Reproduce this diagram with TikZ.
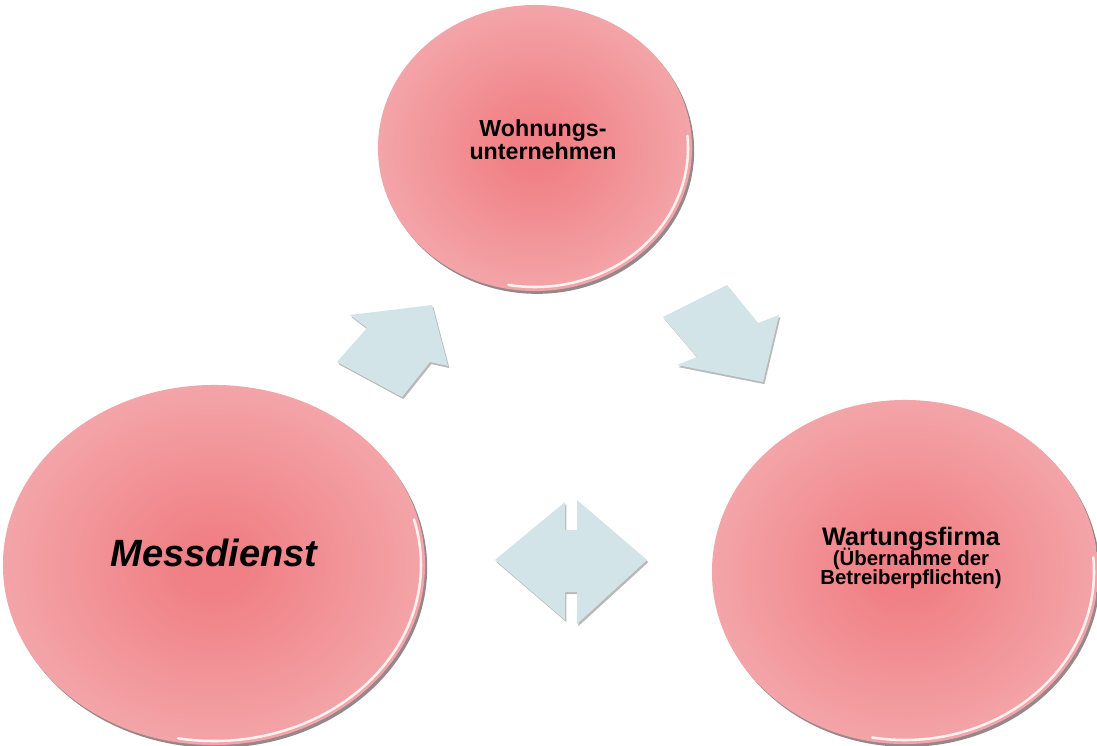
\documentclass[tikz,border=0pt]{standalone}
\usepackage{fontspec}
\setmainfont{Liberation Sans}
\usetikzlibrary{shapes.geometric, shadows}
\definecolor{pinkcore}{RGB}{240, 128, 133}
\definecolor{pinkedge}{RGB}{245, 182, 185}
\definecolor{arrowfill}{RGB}{210, 228, 231}
\definecolor{rimgray}{RGB}{140, 122, 124}
\pgfdeclareradialshading{pinkdisc}{\pgfpoint{0bp}{0bp}}{color(0bp)=(pinkcore); color(4bp)=(pinkcore); color(35bp)=(pinkedge); color(100bp)=(pinkedge)}

\begin{document}
\begin{tikzpicture}[
        x=0.025cm, y=-0.025cm,
        % Styles
        party/.style={
            ellipse,
            shade, shading=pinkdisc,
            inner sep=0pt,
            drop shadow={shadow xshift=1.5pt, shadow yshift=-2pt, fill=rimgray, opacity=0.9}
        },
        partytext/.style={
            align=center,
            inner sep=0pt,
            font=\bfseries\fontsize{16.5}{16.5}\selectfont
        },
        rim/.style={white, line width=1.8pt, opacity=0.85, line cap=round},
        blockarrow/.style={
            fill=arrowfill,
            drop shadow={shadow xshift=1pt, shadow yshift=-1.5pt, fill=gray!60, opacity=0.9}
        }
    ]

    \path[fill=white, use as bounding box] (0,0) rectangle (1097,745);

    % ==============================
    % 1. PARTIES
    % ==============================
    \node[party, minimum width=7.85cm, minimum height=7.15cm] (wohnung) at (535,148) {};
    \node[partytext] (wohnung-text) at (543,140) {Wohnungs-\\unternehmen};

    \node[party, minimum width=10.55cm, minimum height=9cm] (messdienst) at (214,565) {};
    \node[partytext, font=\bfseries\itshape\fontsize{27}{30}\selectfont] (messdienst-text) at (214,553) {Messdienst};

    \node[party, minimum width=9.65cm, minimum height=8.6cm] (wartung) at (905,572) {};
    \node[partytext, font=\bfseries\fontsize{14.5}{14}\selectfont,
          execute at begin node={\lineskiplimit=-20pt}] (wartung-text) at (911,558) {
        {\fontsize{18}{14}\selectfont Wartungsfirma}\\
        (Übernahme der\\
        Betreiberpflichten)
    };

    % highlights on the lower rims
    \draw[rim] (wohnung.center) ++(-5:153 and 139) arc[start angle=-5, end angle=100, x radius=153, y radius=139];
    \draw[rim] (messdienst.center) ++(-15:207 and 176) arc[start angle=-15, end angle=100, x radius=207, y radius=176];
    \draw[rim] (wartung.center) ++(-5:189 and 168) arc[start angle=-5, end angle=100, x radius=189, y radius=168];

    % ==============================
    % 2. ARROWS
    % ==============================
    % Messdienst -> Wohnungsunternehmen
    \fill[blockarrow] (432,305) -- (448,366) -- (430,362) -- (402,397) -- (337,362)
        -- (367,328) -- (350,315) -- cycle;

    % Wohnungsunternehmen -> Wartungsfirma
    \fill[blockarrow] (663,317) -- (727,285) -- (758,323) -- (779,315) -- (763,382)
        -- (677,365) -- (697,357) -- cycle;

    % Messdienst <-> Wartungsfirma
    \fill[blockarrow] (495,560) -- (565,502) -- (565,530) -- (577,530) -- (577,500)
        -- (647,560) -- (577,624) -- (577,592) -- (565,592) -- (565,620) -- cycle;

\end{tikzpicture}
\end{document}
